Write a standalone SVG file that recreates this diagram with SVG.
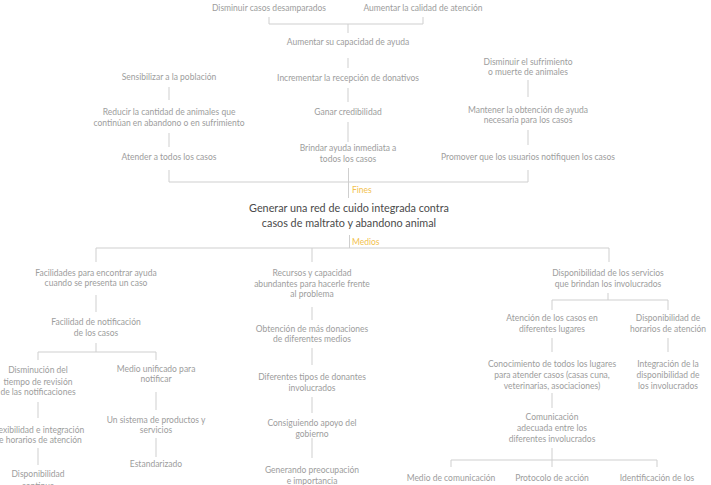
<svg xmlns="http://www.w3.org/2000/svg" width="711" height="485" viewBox="0 0 711 485">
<style>
.t{font-family:Lato,"Noto Sans",sans-serif;font-size:8.5px;fill:#9d9d9d;text-anchor:middle}
.ti{font-family:Lato,"Noto Sans",sans-serif;font-size:10.8px;fill:#4a4a4a;text-anchor:middle}
.lb{font-family:Lato,"Noto Sans",sans-serif;font-size:8.5px;fill:#f2c14e}
.c{fill:none;stroke:#cfcfcf;stroke-width:1}
</style>
<rect width="711" height="485" fill="#fff"/>
<g id="connectors" class="c">
<path d="M269 17V24H423V17"/>
<path d="M348 24V33"/>
<path d="M348 58V68"/>
<path d="M348 88V102"/>
<path d="M348 122V142"/>
<path d="M169 87V100"/>
<path d="M169 133V147"/>
<path d="M528 80V97"/>
<path d="M528 130V145"/>
<path d="M169 170V182H528V170"/>
<path d="M348.5 168V198"/>
<path d="M349.5 235V248"/>
<path d="M96 262V248H609V262"/>
<path d="M312 248V262"/>
<path d="M96 295V312"/>
<path d="M96 343V352"/>
<path d="M38 360V352H156V360"/>
<path d="M38 402V418"/>
<path d="M38 448V465"/>
<path d="M156 392V410"/>
<path d="M156 438V457"/>
<path d="M312 307V320"/>
<path d="M312 348V365"/>
<path d="M312 397V413"/>
<path d="M312 438V458"/>
<path d="M608 293V300"/>
<path d="M552 310V300H668V310"/>
<path d="M552 338V352"/>
<path d="M668 338V352"/>
<path d="M552 393V408"/>
<path d="M552 448V467"/>
<path d="M451 467V460H657V467"/>
</g>
<g id="n1"><text class="t" x="269" y="11">Disminuir casos desamparados</text></g>
<g id="n2"><text class="t" x="423" y="11">Aumentar la calidad de atención</text></g>
<g id="n3"><text class="t" x="348" y="45">Aumentar su capacidad de ayuda</text></g>
<g id="n4"><text class="t" x="348" y="81">Incrementar la recepción de donativos</text></g>
<g id="n5"><text class="t" x="348" y="115">Ganar credibilidad</text></g>
<g id="n6"><text class="t" x="348" y="151">Brindar ayuda inmediata a</text><text class="t" x="348" y="162">todos los casos</text></g>
<g id="n7"><text class="t" x="169" y="80">Sensibilizar a la población</text></g>
<g id="n8"><text class="t" x="169" y="115">Reducir la cantidad de animales que</text><text class="t" x="169" y="126">continúan en abandono o en sufrimiento</text></g>
<g id="n9"><text class="t" x="169" y="160">Atender a todos los casos</text></g>
<g id="n10"><text class="t" x="528" y="65">Disminuir el sufrimiento</text><text class="t" x="528" y="75">o muerte de animales</text></g>
<g id="n11"><text class="t" x="528" y="113">Mantener la obtención de ayuda</text><text class="t" x="528" y="123">necesaria para los casos</text></g>
<g id="n12"><text class="t" x="528" y="160">Promover que los usuarios notifiquen los casos</text></g>
<g id="fines"><text class="lb" x="352" y="193">Fines</text></g>
<g id="goal"><text class="ti" x="349" y="212">Generar una red de cuido integrada contra</text><text class="ti" x="349" y="227">casos de maltrato y abandono animal</text></g>
<g id="medios"><text class="lb" x="352" y="245">Medios</text></g>
<g id="m1"><text class="t" x="96" y="276">Facilidades para encontrar ayuda</text><text class="t" x="96" y="286">cuando se presenta un caso</text></g>
<g id="m2"><text class="t" x="96" y="325">Facilidad de notificación</text><text class="t" x="96" y="336">de los casos</text></g>
<g id="m3"><text class="t" x="38" y="373">Disminución del</text><text class="t" x="38" y="385">tiempo de revisión</text><text class="t" x="38" y="395">de las notificaciones</text></g>
<g id="m4"><text class="t" x="38" y="433">Flexibilidad e integración</text><text class="t" x="38" y="443">de horarios de atención</text></g>
<g id="m5"><text class="t" x="38" y="477">Disponibilidad</text><text class="t" x="38" y="489">continua</text></g>
<g id="m6"><text class="t" x="156" y="372">Medio unificado para</text><text class="t" x="156" y="382">notificar</text></g>
<g id="m7"><text class="t" x="156" y="423">Un sistema de productos y</text><text class="t" x="156" y="433">servicios</text></g>
<g id="m8"><text class="t" x="156" y="467">Estandarizado</text></g>
<g id="m9"><text class="t" x="312" y="276">Recursos y capacidad</text><text class="t" x="312" y="287">abundantes para hacerle frente</text><text class="t" x="312" y="297">al problema</text></g>
<g id="m10"><text class="t" x="312" y="332">Obtención de más donaciones</text><text class="t" x="312" y="342">de diferentes medios</text></g>
<g id="m11"><text class="t" x="312" y="380">Diferentes tipos de donantes</text><text class="t" x="312" y="391">involucrados</text></g>
<g id="m12"><text class="t" x="312" y="426">Consiguiendo apoyo del</text><text class="t" x="312" y="437">gobierno</text></g>
<g id="m13"><text class="t" x="312" y="473">Generando preocupación</text><text class="t" x="312" y="484">e importancia</text></g>
<g id="m14"><text class="t" x="608" y="276">Disponibilidad de los servicios</text><text class="t" x="608" y="287">que brindan los involucrados</text></g>
<g id="m15"><text class="t" x="552" y="321">Atención de los casos en</text><text class="t" x="552" y="332">diferentes lugares</text></g>
<g id="m16"><text class="t" x="668" y="321">Disponibilidad de</text><text class="t" x="668" y="332">horarios de atención</text></g>
<g id="m17"><text class="t" x="552" y="367">Conocimiento de todos los lugares</text><text class="t" x="552" y="378">para atender casos (casas cuna,</text><text class="t" x="552" y="389">veterinarias, asociaciones)</text></g>
<g id="m18"><text class="t" x="668" y="367">Integración de la</text><text class="t" x="668" y="378">disponibilidad de</text><text class="t" x="668" y="389">los involucrados</text></g>
<g id="m19"><text class="t" x="552" y="420">Comunicación</text><text class="t" x="552" y="431">adecuada entre los</text><text class="t" x="552" y="442">diferentes involucrados</text></g>
<g id="m20"><text class="t" x="451" y="481">Medio de comunicación</text></g>
<g id="m21"><text class="t" x="552" y="481">Protocolo de acción</text></g>
<g id="m22"><text class="t" x="657" y="481">Identificación de los</text></g>
</svg>
